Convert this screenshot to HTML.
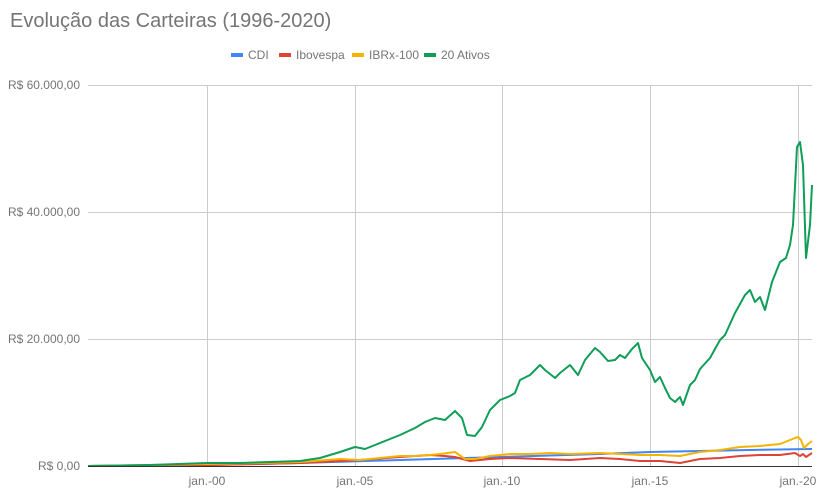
<!DOCTYPE html>
<html><head><meta charset="utf-8"><style>
body{margin:0;background:#fff;font-family:"Liberation Sans",sans-serif}
</style></head><body>
<svg width="818" height="493" xmlns="http://www.w3.org/2000/svg" font-family="Liberation Sans, sans-serif">
<text x="10" y="27" font-size="20" fill="#757575">Evolução das Carteiras (1996-2020)</text>
<g font-size="12" fill="#757575">
<rect x="231" y="53" width="12" height="4" fill="#4285f4"/><text x="248" y="59">CDI</text>
<rect x="279" y="53" width="12" height="4" fill="#db4437"/><text x="296" y="59">Ibovespa</text>
<rect x="352" y="53" width="12" height="4" fill="#f4b400"/><text x="369" y="59">IBRx-100</text>
<rect x="424" y="53" width="12" height="4" fill="#0f9d58"/><text x="441" y="59">20 Ativos</text>
</g>
<g stroke="#ccc" stroke-width="1">
<line x1="88" y1="85.5" x2="812" y2="85.5"/><line x1="88" y1="212.5" x2="812" y2="212.5"/><line x1="88" y1="339.5" x2="812" y2="339.5"/>
<line x1="207.5" y1="85" x2="207.5" y2="466"/><line x1="355.5" y1="85" x2="355.5" y2="466"/><line x1="502.5" y1="85" x2="502.5" y2="466"/><line x1="650.5" y1="85" x2="650.5" y2="466"/><line x1="798.5" y1="85" x2="798.5" y2="466"/>
</g>
<g font-size="12" fill="#757575" text-anchor="end">
<text x="80" y="89">R$ 60.000,00</text><text x="80" y="216">R$ 40.000,00</text><text x="80" y="343">R$ 20.000,00</text><text x="80" y="470">R$ 0,00</text>
</g>
<g font-size="12" fill="#757575" text-anchor="middle">
<text x="207" y="485">jan.-00</text><text x="355" y="485">jan.-05</text><text x="502" y="485">jan.-10</text><text x="650" y="485">jan.-15</text><text x="798" y="485">jan.-20</text>
</g>
<g fill="none" stroke-width="2" stroke-linejoin="round">
<polyline stroke="#4285f4" points="88,466 207,465 300,463 400,460 500,457 600,454 650,452 700,451 750,450 812,449"/>
<polyline stroke="#db4437" points="88,466 207,465 260,464 300,463 340,461 360,460 400,457 430,455 445,456 455,457 470,461 490,459 510,458 540,459 570,460 600,458 620,459 640,461 660,461 680,463 700,459 720,458 740,456 760,455 780,455 795,453 800,456 803,454 806,457 812,453"/>
<polyline stroke="#f4b400" points="88,466 207,464 260,463 300,462 340,459 360,460 380,458 400,456 420,456 440,454 455,452 465,459 475,459 490,456 510,454 530,454 550,453 570,454 600,453 620,454 640,455 660,455 680,456 700,452 720,450 740,447 760,446 780,444 795,438 798,437 801,440 804,448 808,444 812,441"/>
<polyline stroke="#0f9d58" points="88,466 150,465 207,463 240,463 270,462 300,461 320,458 340,452 355,447 365,449 375,445 385,441 400,435 415,428 425,422 435,418 445,420 455,411 462,418 467,435 475,436 482,427 490,410 500,400 510,396 515,393 520,380 530,375 540,365 545,370 555,378 560,373 570,365 578,375 585,360 595,348 600,352 608,361 615,360 620,355 625,358 632,349 638,343 642,358 650,370 655,382 660,377 665,388 670,398 675,402 680,397 683,405 690,385 695,380 700,369 710,358 720,340 725,335 735,313 745,295 750,290 755,302 760,297 765,310 772,282 780,262 786,258 790,245 793,225 797,147 800,142 803,165 806,258 810,225 812,185"/>
</g>
<line x1="88" y1="466.5" x2="812" y2="466.5" stroke="#333" stroke-width="1"/>
</svg>
</body></html>
